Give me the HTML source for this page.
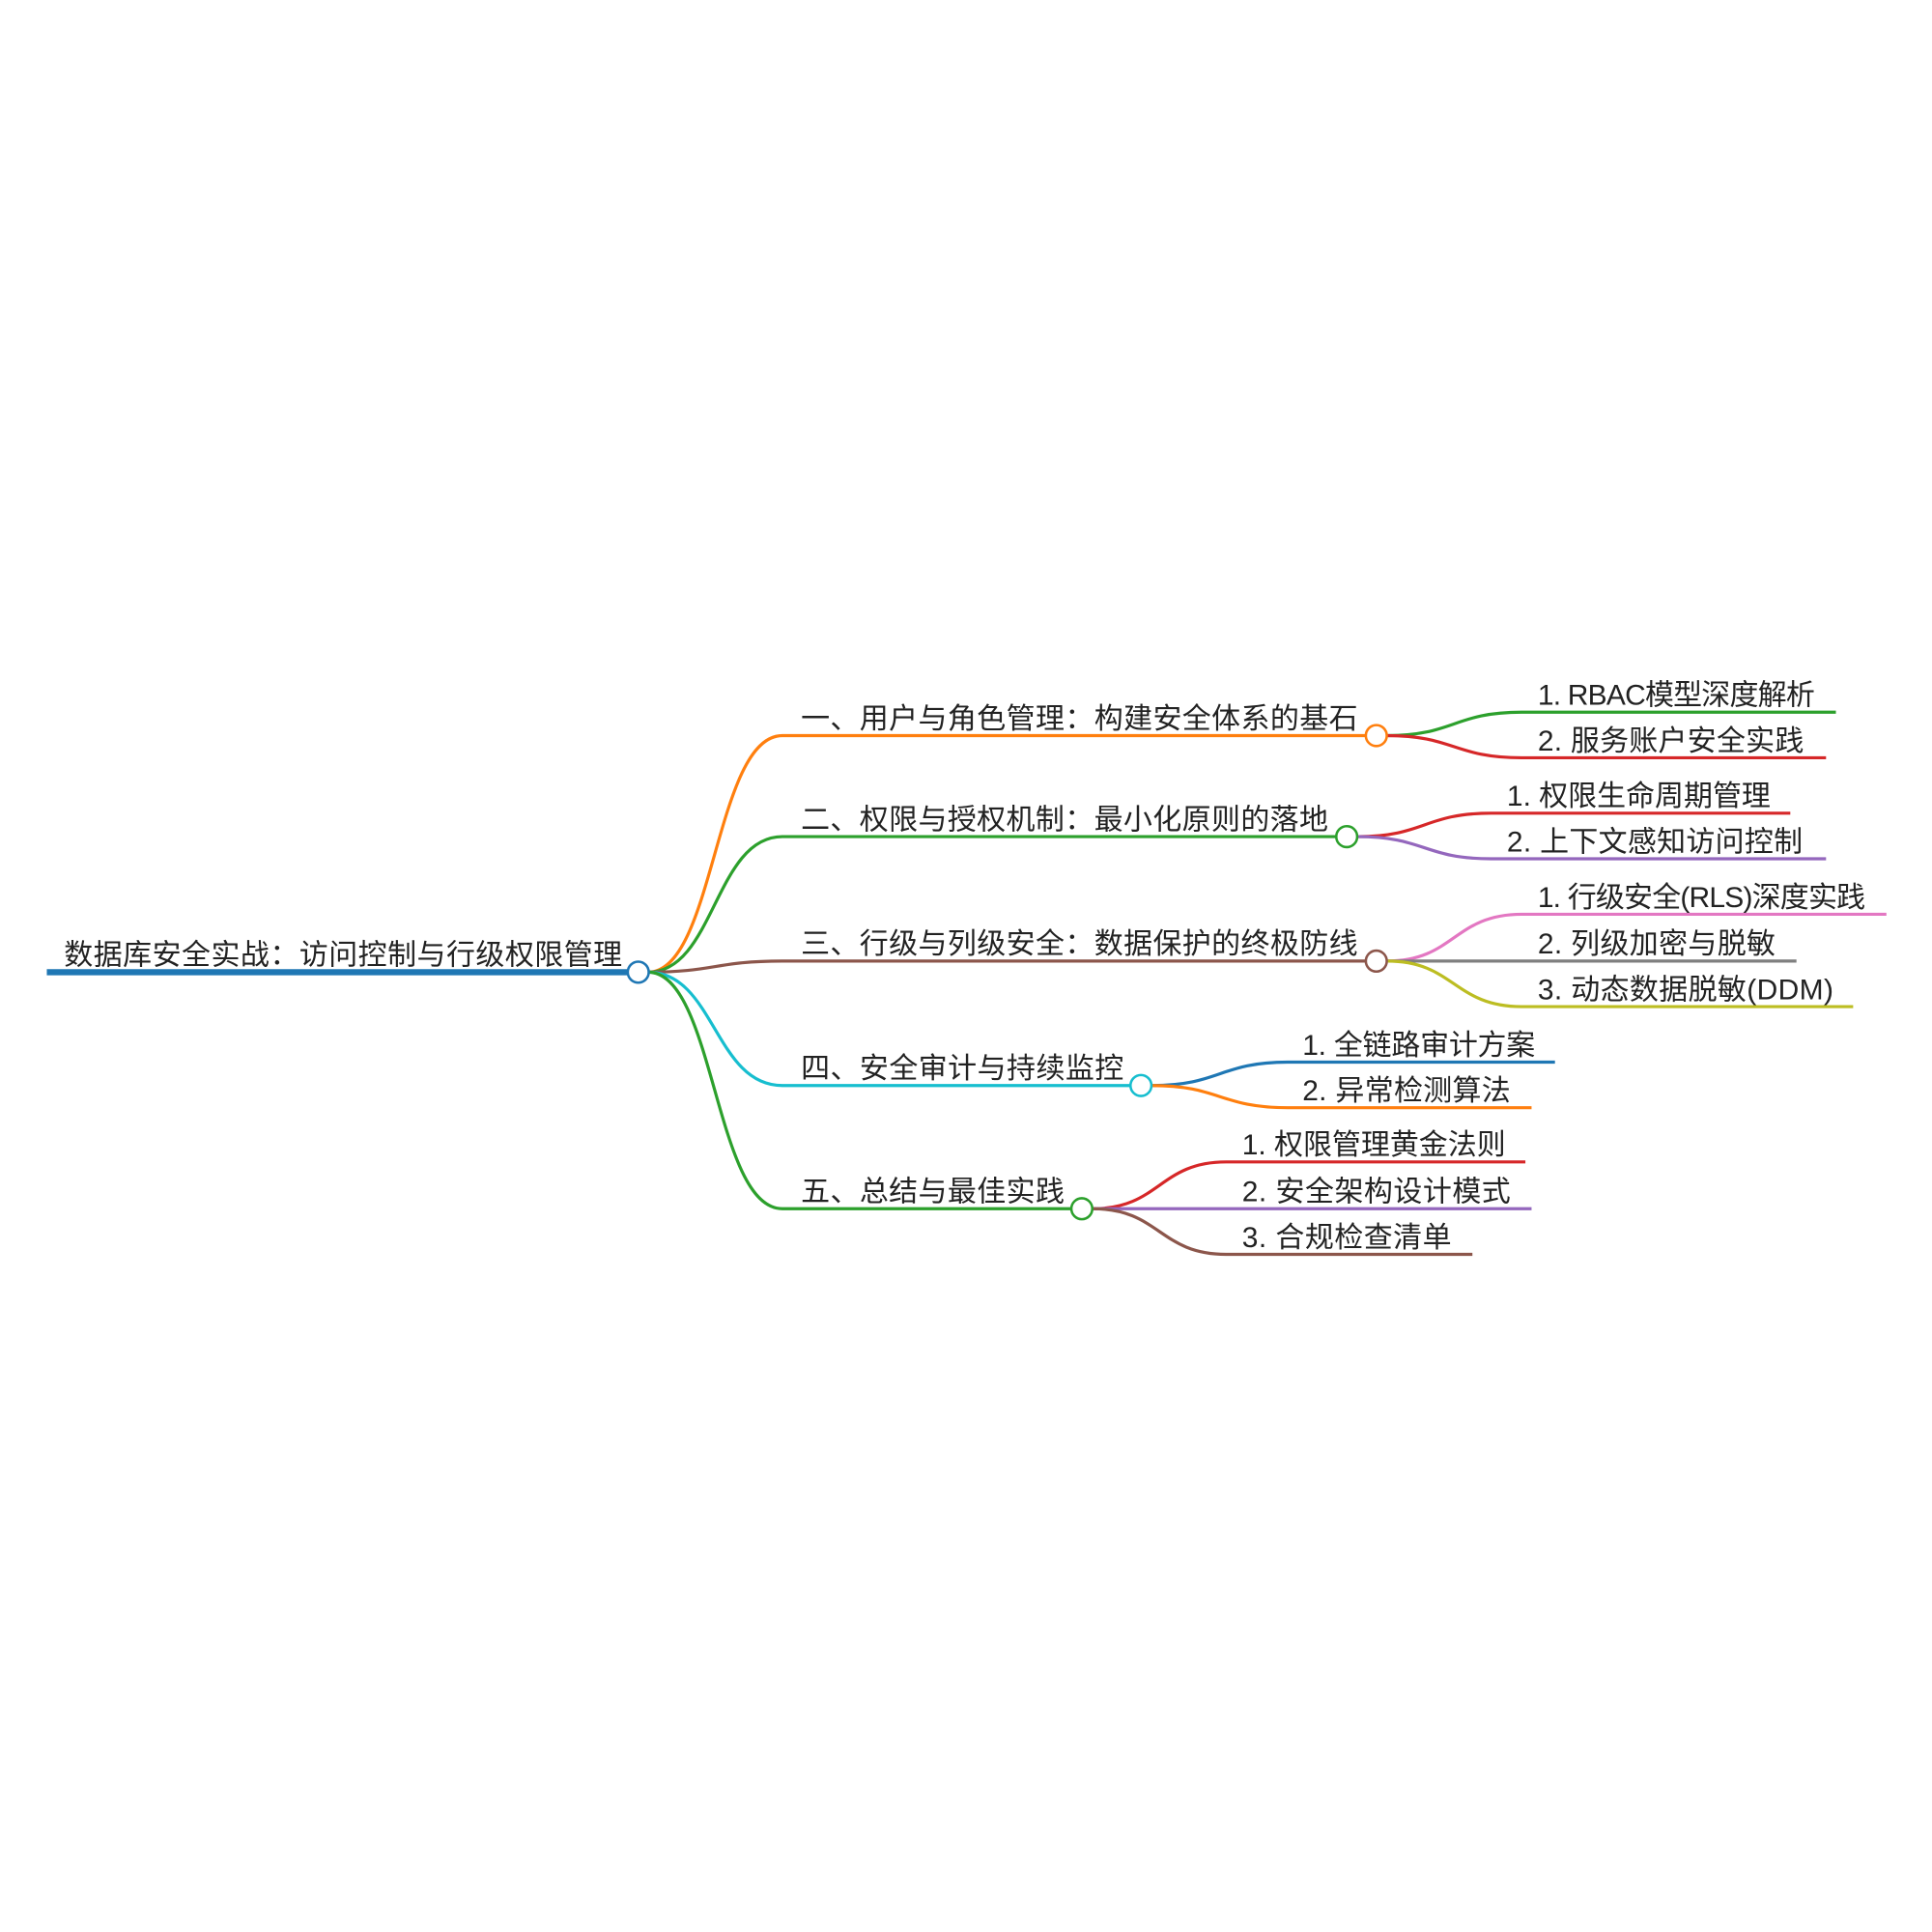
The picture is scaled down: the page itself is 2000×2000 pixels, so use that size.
<!DOCTYPE html>
<html><head><meta charset="utf-8"><style>html,body{margin:0;padding:0;background:#fff}svg{display:block}text{font-family:"Liberation Sans","Noto Sans CJK SC",sans-serif;font-size:23.5px;fill:#222}</style></head><body>
<svg width="2000" height="2000" viewBox="0 0 1568 1568" xmlns="http://www.w3.org/2000/svg">
<g fill="none" stroke-width="2.5">
<path d="M38 789H510" stroke="#1f77b4" stroke-width="5"/>
<path d="M526 789C580 789 580 597 635 597H1108" stroke="#ff7f0e"/>
<path d="M526 789C580 789 580 679 635 679H1084" stroke="#2ca02c"/>
<path d="M526 789C580 789 580 780 635 780H1108" stroke="#8c564b"/>
<path d="M526 789C580 789 580 881 635 881H917" stroke="#17becf"/>
<path d="M526 789C580 789 580 981 635 981H869" stroke="#2ca02c"/>
<path d="M1126 597C1180 597 1180 578 1235 578H1490" stroke="#2ca02c"/>
<path d="M1126 597C1180 597 1180 615 1235 615H1482" stroke="#d62728"/>
<path d="M1102 679C1156 679 1156 660 1210 660H1453" stroke="#d62728"/>
<path d="M1102 679C1156 679 1156 697 1210 697H1482" stroke="#9467bd"/>
<path d="M1126 780C1180 780 1180 742 1235 742H1531" stroke="#e377c2"/>
<path d="M1126 780H1458" stroke="#7f7f7f"/>
<path d="M1126 780C1180 780 1180 817 1235 817H1504" stroke="#bcbd22"/>
<path d="M935 881C990 881 990 862 1045 862H1262" stroke="#1f77b4"/>
<path d="M935 881C990 881 990 899 1045 899H1243" stroke="#ff7f0e"/>
<path d="M887 981C941 981 941 943 995 943H1238" stroke="#d62728"/>
<path d="M887 981H1243" stroke="#9467bd"/>
<path d="M887 981C941 981 941 1018 995 1018H1195" stroke="#8c564b"/>
</g>
<g fill="#fff" stroke-width="2">
<circle cx="518" cy="789" r="8.5" stroke="#1f77b4"/>
<circle cx="1117" cy="597" r="8.5" stroke="#ff7f0e"/>
<circle cx="1093" cy="679" r="8.5" stroke="#2ca02c"/>
<circle cx="1117" cy="780" r="8.5" stroke="#8c564b"/>
<circle cx="926" cy="881" r="8.5" stroke="#17becf"/>
<circle cx="878" cy="981" r="8.5" stroke="#2ca02c"/>
</g>
<text x="52" y="783" textLength="453">数据库安全实战：访问控制与行级权限管理</text>
<text x="650" y="591" textLength="452">一、用户与角色管理：构建安全体系的基石</text>
<text x="650" y="673" textLength="428">二、权限与授权机制：最小化原则的落地</text>
<text x="650" y="774" textLength="452">三、行级与列级安全：数据保护的终极防线</text>
<text x="650" y="875" textLength="262">四、安全审计与持续监控</text>
<text x="650" y="975" textLength="214">五、总结与最佳实践</text>
<text x="1248" y="572" textLength="225">1. RBAC模型深度解析</text>
<text x="1248" y="609" textLength="216">2. 服务账户安全实践</text>
<text x="1223" y="654" textLength="214">1. 权限生命周期管理</text>
<text x="1223" y="691" textLength="240">2. 上下文感知访问控制</text>
<text x="1248" y="736" textLength="266">1. 行级安全(RLS)深度实践</text>
<text x="1248" y="774" textLength="193">2. 列级加密与脱敏</text>
<text x="1248" y="811" textLength="240">3. 动态数据脱敏(DDM)</text>
<text x="1057" y="856" textLength="189">1. 全链路审计方案</text>
<text x="1057" y="893" textLength="169">2. 异常检测算法</text>
<text x="1008" y="937" textLength="214">1. 权限管理黄金法则</text>
<text x="1008" y="975" textLength="218">2. 安全架构设计模式</text>
<text x="1008" y="1012" textLength="170">3. 合规检查清单</text>
</svg>
</body></html>
